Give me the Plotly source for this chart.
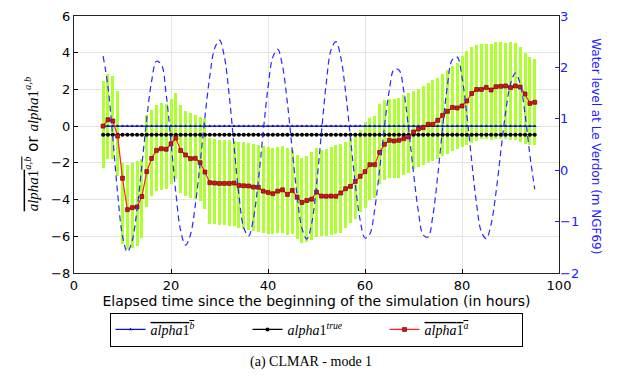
import plotly.graph_objects as go

# ---------------- data ----------------
hours = list(range(6, 96))

analysis_mean = [0.00, 0.35, 0.28, -0.54, -2.84, -4.55, -4.44, -4.40, -3.83, -2.48,
                 -1.76, -1.32, -1.23, -1.26, -0.96, -0.65, -1.33, -1.57, -1.77, -1.75,
                 -1.99, -2.50, -3.08, -3.10, -3.12, -3.12, -3.12, -3.10, -3.23, -3.25,
                 -3.26, -3.32, -3.33, -3.54, -3.61, -3.68, -3.54, -3.47, -3.72, -3.50,
                 -3.87, -4.16, -4.05, -3.98, -3.59, -3.81, -3.82, -3.81, -3.82, -3.64,
                 -3.41, -3.28, -3.01, -2.73, -2.48, -2.10, -2.10, -1.43, -0.99, -0.77,
                 -0.81, -0.77, -0.68, -0.59, -0.32, -0.16, -0.08, 0.10, 0.10, 0.32,
                 0.59, 0.81, 1.02, 0.99, 1.10, 1.37, 1.78, 2.00, 2.00, 2.11,
                 1.97, 2.15, 2.17, 2.19, 2.10, 2.19, 2.13, 1.75, 1.24, 1.30]

ens_max = [2.46, 2.82, 2.73, 1.91, -2.00, -2.14, -2.00, -1.91, -1.80, 0.60,
           0.90, 1.13, 1.24, 1.19, 1.46, 1.79, 1.13, 0.82, 0.69, 0.60,
           0.50, 0.40, -0.67, -0.70, -0.75, -0.77, -0.78, -0.80, -0.85, -0.88,
           -0.92, -0.97, -1.02, -1.10, -1.15, -1.18, -1.12, -1.08, -1.20, -1.30,
           -1.55, -1.75, -1.60, -1.40, -1.20, -1.30, -1.25, -1.15, -1.05, -0.95,
           -0.85, -0.65, -0.45, -0.20, 0.20, 0.45, 0.55, 1.20, 1.40, 1.50,
           1.50, 1.55, 1.70, 1.80, 1.90, 2.05, 2.20, 2.35, 2.50, 2.65,
           2.85, 3.05, 3.30, 3.45, 3.80, 4.10, 4.30, 4.40, 4.45, 4.50,
           4.50, 4.60, 4.60, 4.55, 4.60, 4.55, 4.30, 4.00, 3.75, 3.65]

ens_min = [-2.26, -1.81, -1.77, -2.72, -6.40, -6.71, -6.62, -6.53, -6.08, -4.40,
           -3.80, -3.53, -3.50, -3.45, -3.17, -2.90, -3.63, -3.80, -3.90, -3.99,
           -4.08, -4.53, -5.35, -5.35, -5.38, -5.40, -5.42, -5.45, -5.55, -5.60,
           -5.65, -5.70, -5.75, -5.80, -5.85, -5.88, -5.83, -5.80, -5.95, -5.85,
           -6.15, -6.35, -6.30, -6.20, -6.05, -6.00, -6.00, -5.95, -5.90, -5.80,
           -5.55, -5.30, -5.05, -4.70, -4.45, -4.00, -3.90, -3.15, -2.95, -2.85,
           -2.85, -2.80, -2.65, -2.55, -2.35, -2.20, -2.10, -1.95, -1.90, -1.80,
           -1.65, -1.50, -1.35, -1.25, -1.15, -1.00, -0.90, -0.80, -0.70, -0.70,
           -0.75, -0.70, -0.70, -0.70, -0.75, -0.75, -0.85, -0.95, -1.00, -1.00]

water_level = [2.22, 1.63, 0.63, -0.45, -1.28, -1.59, -1.37, -0.76, 0.10, 1.00,
               1.73, 2.12, 2.06, 1.48, 0.55, -0.44, -1.18, -1.46, -1.26, -0.69,
               0.13, 1.03, 1.83, 2.37, 2.53, 2.21, 1.46, 0.47, -0.48, -1.12,
               -1.28, -0.94, -0.21, 0.73, 1.61, 2.20, 2.35, 2.02, 1.31, 0.39,
               -0.49, -1.13, -1.34, -1.04, -0.29, 0.71, 1.68, 2.34, 2.50, 2.20,
               1.52, 0.63, -0.27, -0.97, -1.32, -1.24, -0.76, 0.00, 0.84, 1.55,
               1.96, 1.95, 1.54, 0.80, -0.05, -0.80, -1.26, -1.30, -0.88, -0.10,
               0.82, 1.65, 2.15, 2.20, 1.81, 1.07, 0.18, -0.65, -1.20, -1.33,
               -1.05, -0.44, 0.36, 1.13, 1.68, 1.89, 1.68, 1.09, 0.29, -0.37]

background_value = 0.0
true_value = -0.47
background_mean = [background_value for _ in hours]
true_param = [true_value for _ in hours]

x_ticks = [0, 20, 40, 60, 80, 100]
y_ticks = [-8, -6, -4, -2, 0, 2, 4, 6]
y2_ticks = [-2, -1, 0, 1, 2, 3]

# ---------------- figure ----------------
SERIF = "Liberation Serif, DejaVu Serif, serif"
SANS = "DejaVu Sans, sans-serif"

fig = go.Figure()

# ensemble spread (columns)
fig.add_trace(go.Bar(
    x=hours, y=[hi - lo for hi, lo in zip(ens_max, ens_min)], base=ens_min,
    width=0.62, marker=dict(color="#adff2f", line=dict(width=0)),
    showlegend=False, hoverinfo="skip"))

fig.add_trace(go.Scatter(
    x=hours, y=background_mean, mode="lines+markers",
    line=dict(color="#1010c0", width=1.2),
    marker=dict(symbol="triangle-up", size=3.5, color="#1010c0"),
    name='<span style="text-decoration:overline"><i>alpha</i>1<sup><i>b</i></sup></span>'))

fig.add_trace(go.Scatter(
    x=hours, y=true_param, mode="lines+markers",
    line=dict(color="black", width=1.2),
    marker=dict(symbol="circle", size=4, color="black"),
    name="<i>alpha</i>1<sup><i>true</i></sup>"))

fig.add_trace(go.Scatter(
    x=hours, y=analysis_mean, mode="lines+markers",
    line=dict(color="#ff2020", width=1.2),
    marker=dict(symbol="square", size=4, color="#dd1111",
                line=dict(color="#500000", width=0.6)),
    name='<span style="text-decoration:overline"><i>alpha</i>1<sup><i>a</i></sup></span>'))

fig.add_trace(go.Scatter(
    x=hours, y=water_level, yaxis="y2", mode="lines",
    line=dict(color="#2828ff", width=1.2, dash="6px,4px", shape="spline", smoothing=1.0),
    showlegend=False, hoverinfo="skip"))

# page body has an 8px margin, so the figure is sized/positioned to compensate
fig.update_layout(
    width=623, height=369,
    margin=dict(l=66, r=72, t=8, b=104, autoexpand=False),
    paper_bgcolor="white", plot_bgcolor="white",
    barmode="overlay", bargap=0,
    font=dict(family=SANS, size=13, color="black"),
    xaxis=dict(range=[0, 100], tickvals=x_ticks, ticks="inside", ticklen=4,
               tickcolor="black", showline=True, linecolor="#222222", linewidth=1.3,
               mirror=True, showgrid=True, gridcolor="#e3e3e3", gridwidth=1,
               zeroline=False, tickfont=dict(size=13),
               title=dict(text="Elapsed time since the beginning of the simulation (in hours)",
                          font=dict(size=14), standoff=2)),
    yaxis=dict(range=[-8, 6], tickvals=y_ticks, ticks="inside", ticklen=4,
               tickcolor="black", showline=True, linecolor="#222222", linewidth=1.3,
               mirror=True, showgrid=True, gridcolor="#e3e3e3", gridwidth=1,
               zeroline=False, tickfont=dict(size=13)),
    yaxis2=dict(range=[-2, 3], tickvals=y2_ticks, overlaying="y", side="right",
                ticks="inside", ticklen=4, tickcolor="#2020ff", showgrid=False,
                zeroline=False, showline=False,
                tickfont=dict(size=13, color="#2020ff")),
    legend=dict(orientation="h", x=0.499, xanchor="center", y=-0.155, yanchor="top",
                bordercolor="black", borderwidth=1, bgcolor="white",
                font=dict(family=SERIF, size=14), entrywidth=92, itemwidth=30,
                tracegroupgap=0),
    annotations=[
        dict(text='<span style="text-decoration:overline"><i>alpha</i>1<sup><i>a,b</i></sup></span>'
                  '<span style="font-family:DejaVu Sans"> or </span>'
                  '<i>alpha</i>1<sup><i>a,b</i></sup>',
             xref="paper", yref="paper", x=-0.087, y=0.5, textangle=-90,
             showarrow=False, font=dict(family=SERIF, size=15),
             xanchor="center", yanchor="middle"),
        dict(text="Water level at Le Verdon (m NGF69)",
             xref="paper", yref="paper", x=1.076, y=0.494, textangle=90,
             showarrow=False, font=dict(family=SANS, size=12, color="#2020ff"),
             xanchor="center", yanchor="middle"),
        dict(text="(a) CLMAR - mode 1", xref="paper", yref="paper",
             x=(311 - 74) / 485, y=(273 - 362) / 257, showarrow=False,
             font=dict(family=SERIF, size=14), xanchor="center", yanchor="middle"),
    ],
)

fig.write_html("out.html")
